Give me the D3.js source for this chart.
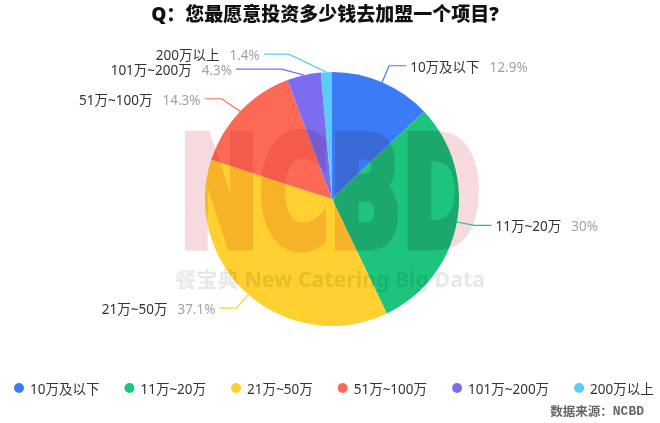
<!DOCTYPE html>
<html>
<head>
<meta charset="utf-8">
<script src="https://cdn.jsdelivr.net/npm/d3@7"></script>
<style>
  html, body { margin: 0; padding: 0; background: #fff; }
  svg { display: block; }
</style>
</head>
<body>
<svg id="chart" width="660" height="423"></svg>
<script>
// ---- data ----
const title = "Q：您最愿意投资多少钱去加盟一个项目?";
const categories = ["10万及以下", "11万~20万", "21万~50万", "51万~100万", "101万~200万", "200万以上"];
const values = [12.9, 30, 37.1, 14.3, 4.3, 1.4];
const valueLabels = ["12.9%", "30%", "37.1%", "14.3%", "4.3%", "1.4%"];
const colors = ["#3b7cf6", "#1dc57c", "#ffd02f", "#fc6a56", "#7b6cf0", "#5bcbf8"];
const watermarkMain = "NCBD";
const watermarkSub = "餐宝典 New Catering Big Data";
const sourceLabel = "数据来源：";
const sourceName = "NCBD";

// ---- layout ----
const W = 660, H = 423;
const cx = 332, cy = 199, R = 127;
const len1 = 18, len2 = 17, textGap = 4, minGap = 15;
const FONT = "'Noto Sans', 'Noto Sans CJK SC', sans-serif";

const svg = d3.select("#chart");

svg.append("text")
  .attr("x", 325).attr("y", 21)
  .attr("text-anchor", "middle")
  .style("font-family", "'Noto Sans', 'Noto Sans CJK SC', sans-serif")
  .style("font-size", "19px")
  .style("font-weight", "900")
  .style("fill", "#111")
  .text(title);

const data = categories.map((c, i) => ({ name: c, value: values[i], label: valueLabels[i], color: colors[i] }));

const pie = d3.pie().sort(null).value(d => d.value);
const arcs = pie(data);
const arcGen = d3.arc().innerRadius(0).outerRadius(R);

const g = svg.append("g").attr("transform", `translate(${cx},${cy})`);
g.selectAll("path.slice")
  .data(arcs)
  .join("path")
  .attr("class", "slice")
  .attr("d", arcGen)
  .attr("fill", d => d.data.color);

// ---- watermark ----
const wm = svg.append("g").style("mix-blend-mode", "multiply").style("pointer-events", "none");
wm.append("text")
  .attr("x", 179).attr("y", 246)
  .attr("textLength", 302)
  .attr("lengthAdjust", "spacingAndGlyphs")
  .style("font-family", "'DejaVu Sans', sans-serif")
  .style("font-weight", "bold")
  .style("font-size", "152px")
  .style("fill", "#f6dadd")
  .style("stroke", "#f6dadd")
  .style("stroke-width", 9)
  .style("stroke-linejoin", "miter")
  .text(watermarkMain);
wm.append("text")
  .attr("x", 175).attr("y", 287)
  .attr("textLength", 310)
  .attr("lengthAdjust", "spacingAndGlyphs")
  .style("font-family", FONT)
  .style("font-weight", "bold")
  .style("font-size", "21px")
  .style("fill", "#e8e8e8")
  .text(watermarkSub);

// ---- label layout ----
const items = arcs.map(a => {
  const mid = (a.startAngle + a.endAngle) / 2;
  const sx = Math.sin(mid), sy = -Math.cos(mid);
  const side = sx >= 0 ? 1 : -1;
  return {
    a, mid, nx: sx, ny: sy, side,
    p1: [cx + R * sx, cy + R * sy],
    ex: cx + (R + len1) * sx,
    y: cy + (R + len1) * sy,
    natY: cy + (R + len1) * sy
  };
});

[-1, 1].forEach(side => {
  const list = items.filter(d => d.side === side).sort((p, q) => p.y - q.y);
  let shifted = false;
  for (let i = 1; i < list.length; i++) {
    if (list[i].y < list[i - 1].y + minGap) {
      list[i].y = list[i - 1].y + minGap;
      shifted = true;
    }
  }
  if (shifted) {
    [list.filter(d => d.y <= cy), list.filter(d => d.y > cy)].forEach(semi => {
      if (semi.length < 2) return;
      const maxDy = d3.max(semi, d => Math.abs(d.y - cy));
      const rB = maxDy + 10, rA = R + len1;
      semi.forEach(d => {
        const dy = Math.abs(d.y - cy);
        const dx = Math.sqrt(Math.max(0, 1 - (dy * dy) / (rB * rB))) * rA;
        d.ex = cx + side * dx;
      });
    });
  }
});

const maxSurf = 62 * Math.PI / 180;
items.forEach(d => {
  d.x3 = d.ex + d.side * len2;
  const vx = d.ex - d.p1[0], vy = d.y - d.p1[1];
  const L = Math.hypot(vx, vy);
  const cosA = (vx * d.nx + vy * d.ny) / L;
  if (cosA < Math.cos(maxSurf)) {
    const phiN = Math.atan2(d.ny, d.nx);
    const phiO = Math.atan2(vy, vx);
    let diff = phiO - phiN;
    while (diff > Math.PI) diff -= 2 * Math.PI;
    while (diff < -Math.PI) diff += 2 * Math.PI;
    const phi = phiN + Math.sign(diff) * maxSurf;
    const t = (d.y - d.p1[1]) / Math.sin(phi);
    if (t > 0) {
      const nxp = d.p1[0] + t * Math.cos(phi);
      if ((d.x3 - nxp) * d.side > 0) d.ex = nxp;
    }
  }
});

const lineGen = d3.line();
svg.append("g").selectAll("path.lbl")
  .data(items)
  .join("path")
  .attr("class", "lbl")
  .attr("d", d => lineGen([d.p1, [d.ex, d.y], [d.x3, d.y]]))
  .attr("fill", "none")
  .attr("stroke", d => d.a.data.color)
  .attr("stroke-width", 1.2);

const lbl = svg.append("g").selectAll("text.lbl")
  .data(items)
  .join("text")
  .attr("class", "lbl")
  .attr("x", d => d.x3 + d.side * textGap)
  .attr("y", d => d.y + 1)
  .attr("dominant-baseline", "central")
  .attr("text-anchor", d => d.side > 0 ? "start" : "end")
  .style("font-family", FONT)
  .style("font-size", "13.5px");
lbl.append("tspan").style("fill", "#333").text(d => d.a.data.name);
lbl.append("tspan").attr("dx", 10).style("fill", "#a3a3a3").text(d => d.a.data.label);

// ---- legend ----
const legend = svg.append("g");
let lx = 19;
const ly = 388;
data.forEach(d => {
  legend.append("circle").attr("cx", lx).attr("cy", ly).attr("r", 5).attr("fill", d.color);
  const t = legend.append("text")
    .attr("x", lx + 11).attr("y", ly + 1)
    .attr("dominant-baseline", "central")
    .style("font-family", FONT)
    .style("font-size", "13.5px")
    .style("fill", "#333")
    .text(d.name);
  lx = lx + 11 + t.node().getComputedTextLength() + 30;
});

// ---- source ----
const src = svg.append("text")
  .attr("x", 644).attr("y", 411)
  .attr("text-anchor", "end")
  .attr("dominant-baseline", "central")
  .style("font-family", FONT)
  .style("font-size", "12.5px")
  .style("font-weight", "bold")
  .style("fill", "#666");
src.append("tspan").text(sourceLabel);
src.append("tspan").style("font-family", "'Liberation Mono', monospace").style("font-size", "13px").text(sourceName);
</script>
</body>
</html>
